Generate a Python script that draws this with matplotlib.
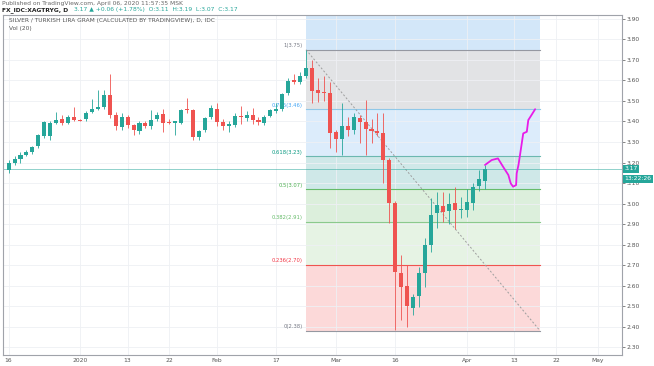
import numpy as np
import pandas as pd
import matplotlib.pyplot as plt

# Daily candles, 16 Dec 2019 .. 6 Apr 2020
opens = [3.165, 3.198, 3.215, 3.237, 3.25, 3.28, 3.33, 3.33, 3.393, 3.412,
         3.395, 3.422, 3.405, 3.41, 3.446, 3.461, 3.472, 3.529, 3.432, 3.373,
         3.422, 3.383, 3.354, 3.393, 3.378, 3.412, 3.437, 3.396, 3.395, 3.393,
         3.458, 3.456, 3.324, 3.358, 3.422, 3.461, 3.398, 3.378, 3.383, 3.427,
         3.417, 3.432, 3.407, 3.393, 3.427, 3.452, 3.461, 3.539, 3.602, 3.593,
         3.622, 3.661, 3.554, 3.539, 3.539, 3.349, 3.315, 3.378, 3.359, 3.417,
         3.398, 3.363, 3.354, 3.344, 3.212, 3.002, 2.66, 2.598, 2.49, 2.549,
         2.661, 2.80, 2.954, 2.988, 2.963, 3.002, 2.970, 2.968, 3.002, 3.085,
         3.11]
highs = [3.21, 3.23, 3.25, 3.26, 3.28, 3.34, 3.40, 3.40, 3.446, 3.43,
         3.43, 3.47, 3.41, 3.45, 3.51, 3.554, 3.554, 3.632, 3.446, 3.44,
         3.43, 3.39, 3.40, 3.40, 3.456, 3.445, 3.46, 3.41, 3.40, 3.46,
         3.515, 3.46, 3.36, 3.42, 3.48, 3.49, 3.41, 3.40, 3.44, 3.477,
         3.45, 3.467, 3.42, 3.43, 3.46, 3.49, 3.54, 3.61, 3.63, 3.64,
         3.75, 3.70, 3.61, 3.62, 3.594, 3.36, 3.49, 3.42, 3.44, 3.43,
         3.505, 3.41, 3.44, 3.44, 3.22, 3.01, 2.75, 2.70, 2.56, 2.69,
         2.83, 3.027, 3.056, 3.056, 3.05, 3.08, 3.03, 3.07, 3.10, 3.163,
         3.19]
lows = [3.15, 3.19, 3.20, 3.23, 3.24, 3.27, 3.32, 3.31, 3.39, 3.385,
        3.39, 3.40, 3.40, 3.40, 3.44, 3.455, 3.46, 3.417, 3.359, 3.36,
        3.37, 3.334, 3.34, 3.37, 3.365, 3.40, 3.349, 3.39, 3.334, 3.39,
        3.44, 3.31, 3.31, 3.35, 3.41, 3.38, 3.36, 3.35, 3.375, 3.39,
        3.40, 3.39, 3.385, 3.385, 3.42, 3.44, 3.45, 3.53, 3.585, 3.585,
        3.61, 3.49, 3.497, 3.50, 3.27, 3.25, 3.237, 3.33, 3.34, 3.295,
        3.237, 3.295, 3.33, 3.10, 2.905, 2.383, 2.43, 2.398, 2.456, 2.495,
        2.593, 2.763, 2.88, 2.91, 2.90, 2.875, 2.93, 2.934, 2.97, 3.06,
        3.07]
closes = [3.20, 3.217, 3.237, 3.251, 3.276, 3.334, 3.398, 3.393, 3.407, 3.393,
          3.422, 3.407, 3.403, 3.441, 3.461, 3.471, 3.529, 3.432, 3.378, 3.422,
          3.383, 3.359, 3.393, 3.378, 3.407, 3.432, 3.393, 3.394, 3.396, 3.456,
          3.455, 3.324, 3.354, 3.418, 3.466, 3.398, 3.378, 3.388, 3.427, 3.422,
          3.432, 3.407, 3.398, 3.422, 3.456, 3.461, 3.534, 3.597, 3.593, 3.622,
          3.661, 3.549, 3.539, 3.537, 3.344, 3.315, 3.378, 3.359, 3.422, 3.398,
          3.363, 3.354, 3.344, 3.212, 3.002, 2.666, 2.593, 2.50, 2.544, 2.661,
          2.80, 2.944, 2.993, 2.959, 2.998, 2.968, 2.975, 3.007, 3.08, 3.12,
          3.17]

# x axis labels
tick_dates = ['2019-12-16', '2020-01-01', '2020-01-13', '2020-01-22', '2020-02-03',
              '2020-02-17', '2020-03-02', '2020-03-16', '2020-04-01', '2020-04-13',
              '2020-04-22', '2020-05-01']
tick_labels = ['16', '2020', '13', '22', 'Feb', '17', 'Mar', '16', 'Apr', '13', '22', 'May']

# Fibonacci retracement (from bar 50 high to the projected low)
fib_start, fib_end = 50, 89.3
fib_ratios = ['1', '0.786', '0.618', '0.5', '0.382', '0.236', '0']
fib_levels = [3.75, 3.46, 3.23, 3.07, 2.91, 2.70, 2.38]
fib_line_colors = ['#9598a1', '#90c8e8', '#6cb8b0', '#66bb6a', '#8bc98d', '#ef5350', '#9598a1']
fib_text_colors = ['#787b86', '#42a5f5', '#089981', '#4caf50', '#66bb6a', '#f23645', '#787b86']
fib_fills = ['#e2e3e5', '#dcecfb', '#cfe8e8', '#dcefdc', '#e6f3e4', '#fcd9d9']

# magenta hand drawn projection (bar, price)
sketch_x = [80.07, 81.2, 82.25, 83.1, 84.0, 84.4, 84.8, 85.3, 85.4, 85.7,
            85.96, 86.5, 87.1, 87.35, 87.9, 88.5]
sketch_y = [3.188, 3.212, 3.22, 3.18, 3.139, 3.098, 3.082, 3.09, 3.147, 3.188,
            3.237, 3.342, 3.35, 3.407, 3.432, 3.46]

last_price = 3.17
green, red = '#26a69a', '#ef5350'

fig = plt.figure(figsize=(6.54, 3.66), dpi=100)
ax = fig.add_axes([3 / 654, 11 / 366, 619 / 654, 340 / 366])
ylo, yhi = 2.261, 3.9195
ax.set_ylim(ylo, yhi)
ax.set_xlim(-0.94, 103.1)

# grid
dates = pd.bdate_range('2019-12-16', periods=120)
tick_pos = [dates.get_loc(pd.Timestamp(d)) for d in tick_dates]
ax.set_xticks(tick_pos)
ax.set_xticklabels(tick_labels)
ax.set_yticks(np.round(np.arange(2.3, 3.91, 0.1), 2))
ax.yaxis.tick_right()
ax.yaxis.set_major_formatter(plt.FormatStrFormatter('%.2f'))
ax.grid(True, color='#eef0f4', lw=0.6, zorder=0)
ax.tick_params(axis='y', labelsize=4.3, colors='#555555', length=2, width=0.5, pad=1.5)
ax.tick_params(axis='x', labelsize=4.3, colors='#555555', length=0, pad=2)
for s in ax.spines.values():
    s.set_color('#a0a3aa')
    s.set_linewidth(0.8)

# fib zones
ax.fill_between([fib_start, fib_end], fib_levels[0], yhi, color='#d3e7f9', lw=0, zorder=1)
for i in range(len(fib_fills)):
    ax.fill_between([fib_start, fib_end], fib_levels[i + 1], fib_levels[i],
                    color=fib_fills[i], lw=0, zorder=1)
for r, lv, lc, tc in zip(fib_ratios, fib_levels, fib_line_colors, fib_text_colors):
    ax.plot([fib_start, fib_end], [lv, lv], color=lc, lw=0.8, zorder=2)
    ax.text(fib_start - 0.6, lv + 0.008, f'{r}({lv:.2f})', ha='right', va='bottom',
            fontsize=3.8, color=tc, zorder=2)
ax.plot([fib_start, fib_end], [fib_levels[0], fib_levels[-1]], color='#9e9e9e',
        lw=0.7, ls=(0, (2, 2)), zorder=2)

# last price line
ax.axhline(last_price, color=green, lw=0.6, alpha=0.6, zorder=2)

# candles
x = np.arange(len(opens))
o, h, l, c = map(np.array, (opens, highs, lows, closes))
cols = np.where(c >= o, green, red)
ax.vlines(x, l, h, colors=cols, lw=0.6, zorder=3)
body = np.maximum(np.abs(c - o), 0.005)
ax.bar(x, body, bottom=np.minimum(o, c), width=0.68, color=cols, lw=0, zorder=4)

ax.plot(sketch_x, sketch_y, color='#e81ce8', lw=1.3, zorder=5, solid_capstyle='round')

# price label on axis
ax.text(1.004, last_price, f'{last_price:.2f}', transform=ax.get_yaxis_transform(),
        ha='left', va='center', fontsize=4.3, color='white', zorder=6,
        bbox=dict(boxstyle='square,pad=0.25', fc=green, ec='none'))
ax.text(1.004, last_price - 0.05, '13:22:26', transform=ax.get_yaxis_transform(),
        ha='left', va='center', fontsize=4.3, color='white', zorder=6,
        bbox=dict(boxstyle='square,pad=0.25', fc=green, ec='none'))

# header texts
fig.text(2 / 654, 1 - 3 / 366, 'Published on TradingView.com, April 06, 2020 11:57:35 MSK',
         fontsize=4.3, color='#666666', va='center')
t = fig.text(2 / 654, 1 - 10 / 366, 'FX_IDC:XAGTRYG, D', fontsize=4.3, color='#222222',
             va='center', fontweight='bold')
fig.text(0, 0, '3.17 \u25b2 +0.06 (+1.78%)  O:3.11  H:3.19  L:3.07  C:3.17',
         fontsize=4.3, color='#26a69a', va='center')
ann = fig.texts[-1]
ann.remove()
ax.annotate('3.17 \u25b2 +0.06 (+1.78%)  O:3.11  H:3.19  L:3.07  C:3.17',
            xy=(1, 0.5), xycoords=t, xytext=(4, 0), textcoords='offset points',
            fontsize=4.3, color='#26a69a', va='center', annotation_clip=False)
ax.text(0.006, 3.895, 'SILVER / TURKISH LIRA GRAM (CALCULATED BY TRADINGVIEW), D, IDC',
        fontsize=4.2, color='#555555', va='center', zorder=6)
ax.text(0.006, 3.855, 'Vol (20)', fontsize=4.2, color='#555555', va='center', zorder=6)

plt.savefig('out.png', dpi=100)
